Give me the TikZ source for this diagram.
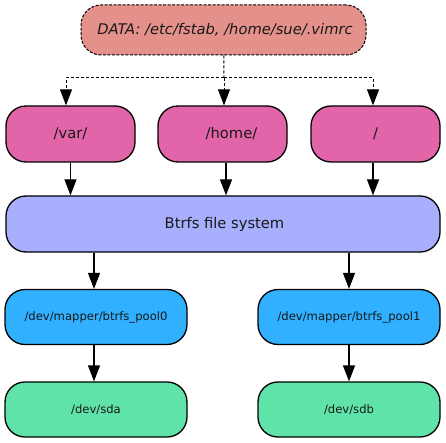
\documentclass[tikz,border=0pt]{standalone}
\usepackage{fontspec}
\setmainfont{DejaVu Sans}
\usepackage{tikz}
\usetikzlibrary{arrows.meta,positioning}

\definecolor{datared}{HTML}{E5918B}
\definecolor{dirpink}{HTML}{E365A9}
\definecolor{fsblue}{HTML}{A8B0FE}
\definecolor{mapblue}{HTML}{30B0FF}
\definecolor{devgreen}{HTML}{5FE3A8}

\tikzset{
    box/.style={draw, line width=1.3pt, rounded corners=20pt, inner sep=0pt, text=black!90, font=\fontsize{14.7}{17}\selectfont},
    smallbox/.style={box, minimum width=182pt, minimum height=55pt, font=\fontsize{11.6}{14}\selectfont},
    dirbox/.style={box, fill=dirpink, minimum width=129pt, minimum height=56pt},
    flow/.style={-{Triangle[length=16pt,width=12pt]}, line width=1.3pt},
    dataflow/.style={flow, line width=1pt, dash pattern=on 3pt off 2pt}
}

\begin{document}
\begin{tikzpicture}[x=1pt, y=-1pt]
        \useasboundingbox (0, 0) rectangle (446, 443);

        \node[box, dash pattern=on 3pt off 1.5pt, line width=1pt, fill=datared, minimum width=285pt, minimum height=50pt] (data) at (223.5, 30) {\itshape\hspace{3pt}DATA: /etc/fstab, /home/sue/.vimrc};
        \coordinate (split) at (224, 78);

        \node[dirbox] (var) at (70.5, 134) {/var/};
        \node[dirbox] (home) at (222.5, 134) {\hspace{18pt}/home/};
        \node[dirbox] (root) at (375.5, 134) {/\hspace{6pt}};

        \node[box, fill=fsblue, minimum width=434pt, minimum height=56pt] (btrfs) at (223, 224) {\hspace{3pt}Btrfs file system};

        \node[smallbox, fill=mapblue] (pool0) at (96, 317) {/dev/mapper/btrfs\_pool0\hspace{4pt}};
        \node[smallbox, fill=mapblue] (pool1) at (349, 317) {/dev/mapper/btrfs\_pool1};

        \node[smallbox, fill=devgreen] (sda) at (96, 409.5) {/dev/sda\hspace{5pt}};
        \node[smallbox, fill=devgreen] (sdb) at (349, 409.5) {/dev/sdb};

        \draw[line width=1pt, dash pattern=on 3pt off 2pt] (data) -- (split);
        \draw[dataflow] (split) -| ([xshift=-4.5pt]var.north);
        \draw[dataflow] (split) -- (split |- home.north);
        \draw[dataflow] (split) -| ([xshift=-2.5pt]root.north);

        \draw[flow] (var) -- (var |- btrfs.north);
        \draw[flow] ([xshift=3.5pt]home.south) -- ([xshift=3.5pt]home.south |- btrfs.north);
        \draw[flow] ([xshift=-2.5pt]root.south) -- ([xshift=-2.5pt]root.south |- btrfs.north);

        \draw[flow] (btrfs.south -| pool0.north) ++(-2pt, 0) -- ([xshift=-2pt]pool0.north);
        \draw[flow] (btrfs.south -| pool1) -- (pool1);
        \draw[flow] ([xshift=-2pt]pool0.south) -- ([xshift=-2pt]sda.north);
        \draw[flow] (pool1) -- (sdb);
\end{tikzpicture}
\end{document}
